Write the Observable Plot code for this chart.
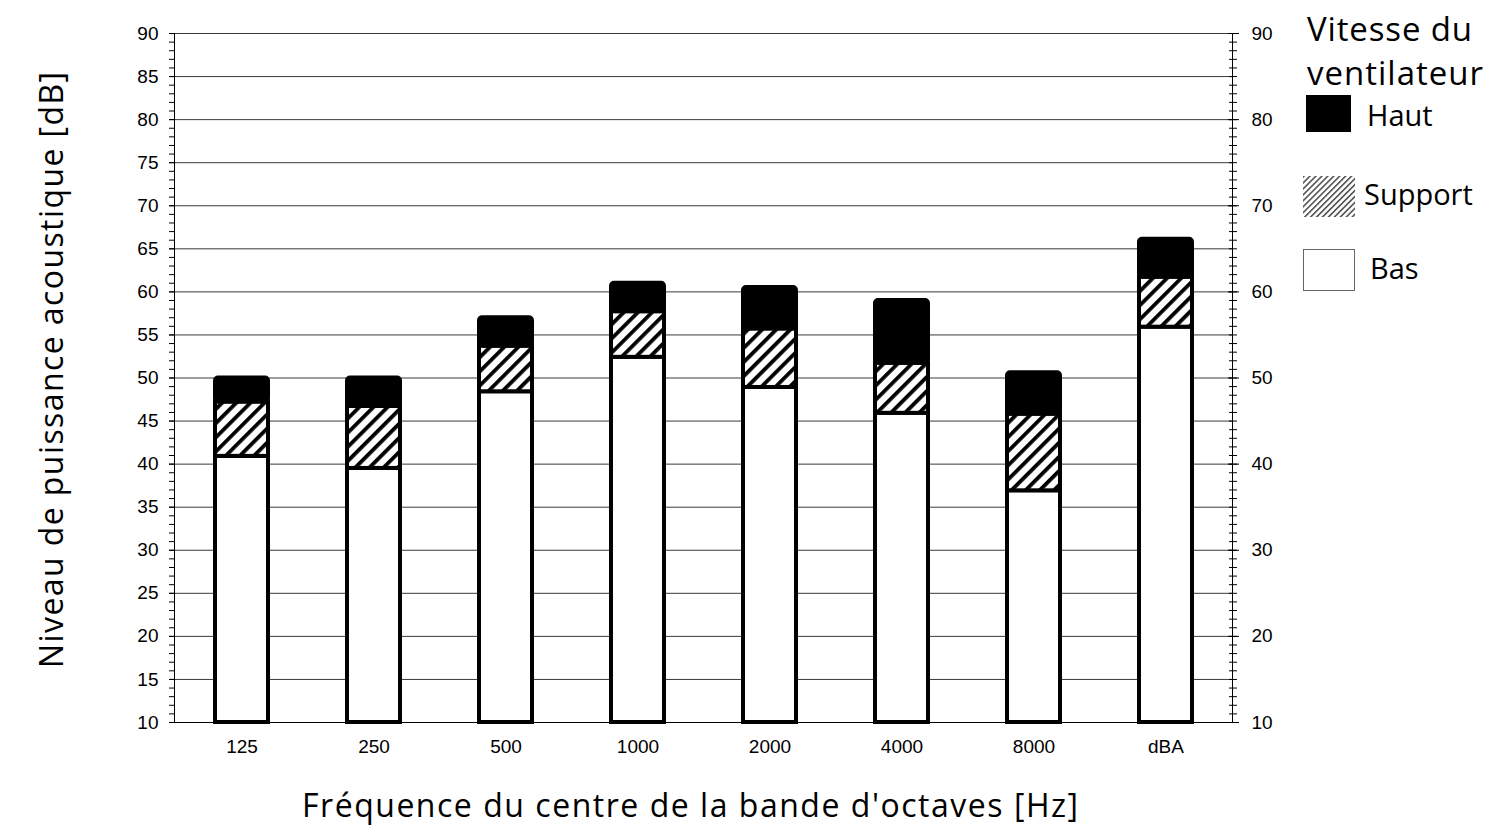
<!DOCTYPE html>
<html><head><meta charset="utf-8">
<script src="https://cdn.jsdelivr.net/npm/d3@7"></script>
<script src="https://cdn.jsdelivr.net/npm/@observablehq/plot@0.6"></script>
<style>body{margin:0;background:#fff;} #chart{width:1498px;height:826px;}</style>
</head><body><div id="chart"></div>
<script>
const categories = ["125", "250", "500", "1000", "2000", "4000", "8000", "dBA"];
const bas =     [40.9, 39.5, 48.4, 52.4, 48.9, 45.9, 36.9, 55.9];
const support = [47.2, 46.7, 53.7, 57.7, 55.7, 51.7, 45.8, 61.7];
const haut =    [50.0, 50.0, 57.0, 61.0, 60.5, 59.0, 50.6, 66.1];
const yLeftTicks = [10, 15, 20, 25, 30, 35, 40, 45, 50, 55, 60, 65, 70, 75, 80, 85, 90];
const yRightTicks = [10, 20, 30, 40, 50, 60, 70, 80, 90];
const yMinorTicks = d3.range(10, 91, 1);
const legendTitle = ["Vitesse du", "ventilateur"];
const legendLabels = ["Haut", "Support", "Bas"];
const xTitle = "Fréquence du centre de la bande d'octaves [Hz]";
const yTitle = "Niveau de puissance acoustique [dB]";

const rows = categories.map((c, i) => ({cat: c, bas: bas[i], support: support[i], haut: haut[i]}));
const calibri = "'Open Sans', 'Noto Sans', sans-serif";
const noText = () => "";

const chart = Plot.plot({
  width: 1498, height: 826,
  marginLeft: 174, marginRight: 266, marginTop: 33, marginBottom: 104,
  style: {fontFamily: "'Liberation Sans', Arial, sans-serif", fontSize: "19px", color: "#000", background: "#fff", overflow: "visible"},
  x: {domain: categories, paddingInner: 0.6, paddingOuter: 0.3, label: null},
  y: {domain: [10, 90], label: null},
  marks: [
    Plot.ruleY(yLeftTicks.filter(d => d > 10), {stroke: "#3a3a3a", strokeWidth: 1}),
    Plot.ruleY([10], {stroke: "#000", strokeWidth: 1}),
    Plot.frame({anchor: "left", stroke: "#000"}),
    Plot.frame({anchor: "right", stroke: "#000"}),
    Plot.axisY({anchor: "left", ticks: yMinorTicks, tickSize: 5, tickFormat: noText, label: null}),
    Plot.axisY({anchor: "left", ticks: yLeftTicks, tickSize: 5, tickPadding: 11, label: null}),
    Plot.axisY({anchor: "right", ticks: yMinorTicks, tickSize: 8, dx: -4, tickFormat: noText, label: null}),
    Plot.axisY({anchor: "right", ticks: yRightTicks, tickSize: 11, dx: -5, tickFormat: noText, label: null}),
    Plot.axisY({anchor: "right", ticks: yRightTicks, tickSize: 0, tickPadding: 19, label: null}),
    Plot.axisX({tickSize: 0, tickPadding: 17, label: null}),
    Plot.barY(rows, {x: "cat", y1: 10, y2: "bas", fill: "white", stroke: "black", strokeWidth: 4}),
    Plot.barY(rows, {x: "cat", y1: "bas", y2: "support", fill: "url(#hatch)", stroke: "black", strokeWidth: 4}),
    Plot.barY(rows, {x: "cat", y1: "support", y2: "haut", fill: "black", stroke: "black", strokeWidth: 4, rx: 3})
  ]
});
document.getElementById("chart").appendChild(chart);

const svg = d3.select(chart);
const defs = svg.insert("defs", ":first-child");
const p = defs.append("pattern").attr("id", "hatch").attr("patternUnits", "userSpaceOnUse")
  .attr("width", 10).attr("height", 10).attr("patternTransform", "rotate(45)");
p.append("rect").attr("width", 10).attr("height", 10).attr("fill", "white");
p.append("rect").attr("width", 3.8).attr("height", 10).attr("fill", "black");
const pf = defs.append("pattern").attr("id", "hatchFine").attr("patternUnits", "userSpaceOnUse")
  .attr("width", 4.2).attr("height", 4.2).attr("patternTransform", "rotate(45)");
pf.append("rect").attr("width", 4.2).attr("height", 4.2).attr("fill", "white");
pf.append("rect").attr("width", 1.6).attr("height", 4.2).attr("fill", "#555");

const g = svg.append("g").attr("font-family", calibri).attr("fill", "#000").attr("text-anchor", "start");
g.append("text").attr("transform", "translate(63,370) rotate(-90)").attr("text-anchor", "middle")
  .attr("font-size", 32).attr("textLength", 596).attr("lengthAdjust", "spacing").text(yTitle);
g.append("text").attr("x", 690).attr("y", 817).attr("text-anchor", "middle")
  .attr("font-size", 32).attr("textLength", 776).attr("lengthAdjust", "spacing").text(xTitle);

g.append("text").attr("x", 1307).attr("y", 41).attr("font-size", 33).attr("textLength", 165).attr("lengthAdjust", "spacing").text(legendTitle[0]);
g.append("text").attr("x", 1307).attr("y", 85).attr("font-size", 33).attr("textLength", 176).attr("lengthAdjust", "spacing").text(legendTitle[1]);
g.append("rect").attr("x", 1306).attr("y", 95).attr("width", 45).attr("height", 37).attr("fill", "#000");
g.append("text").attr("x", 1367).attr("y", 126).attr("font-size", 29).text(legendLabels[0]);
g.append("rect").attr("x", 1303).attr("y", 176).attr("width", 52).attr("height", 41).attr("fill", "url(#hatchFine)");
g.append("text").attr("x", 1364).attr("y", 205).attr("font-size", 29).text(legendLabels[1]);
g.append("rect").attr("x", 1303.5).attr("y", 249.5).attr("width", 51).attr("height", 41).attr("fill", "#fff").attr("stroke", "#666").attr("stroke-width", 1);
g.append("text").attr("x", 1370).attr("y", 279).attr("font-size", 29).text(legendLabels[2]);
</script></body></html>
